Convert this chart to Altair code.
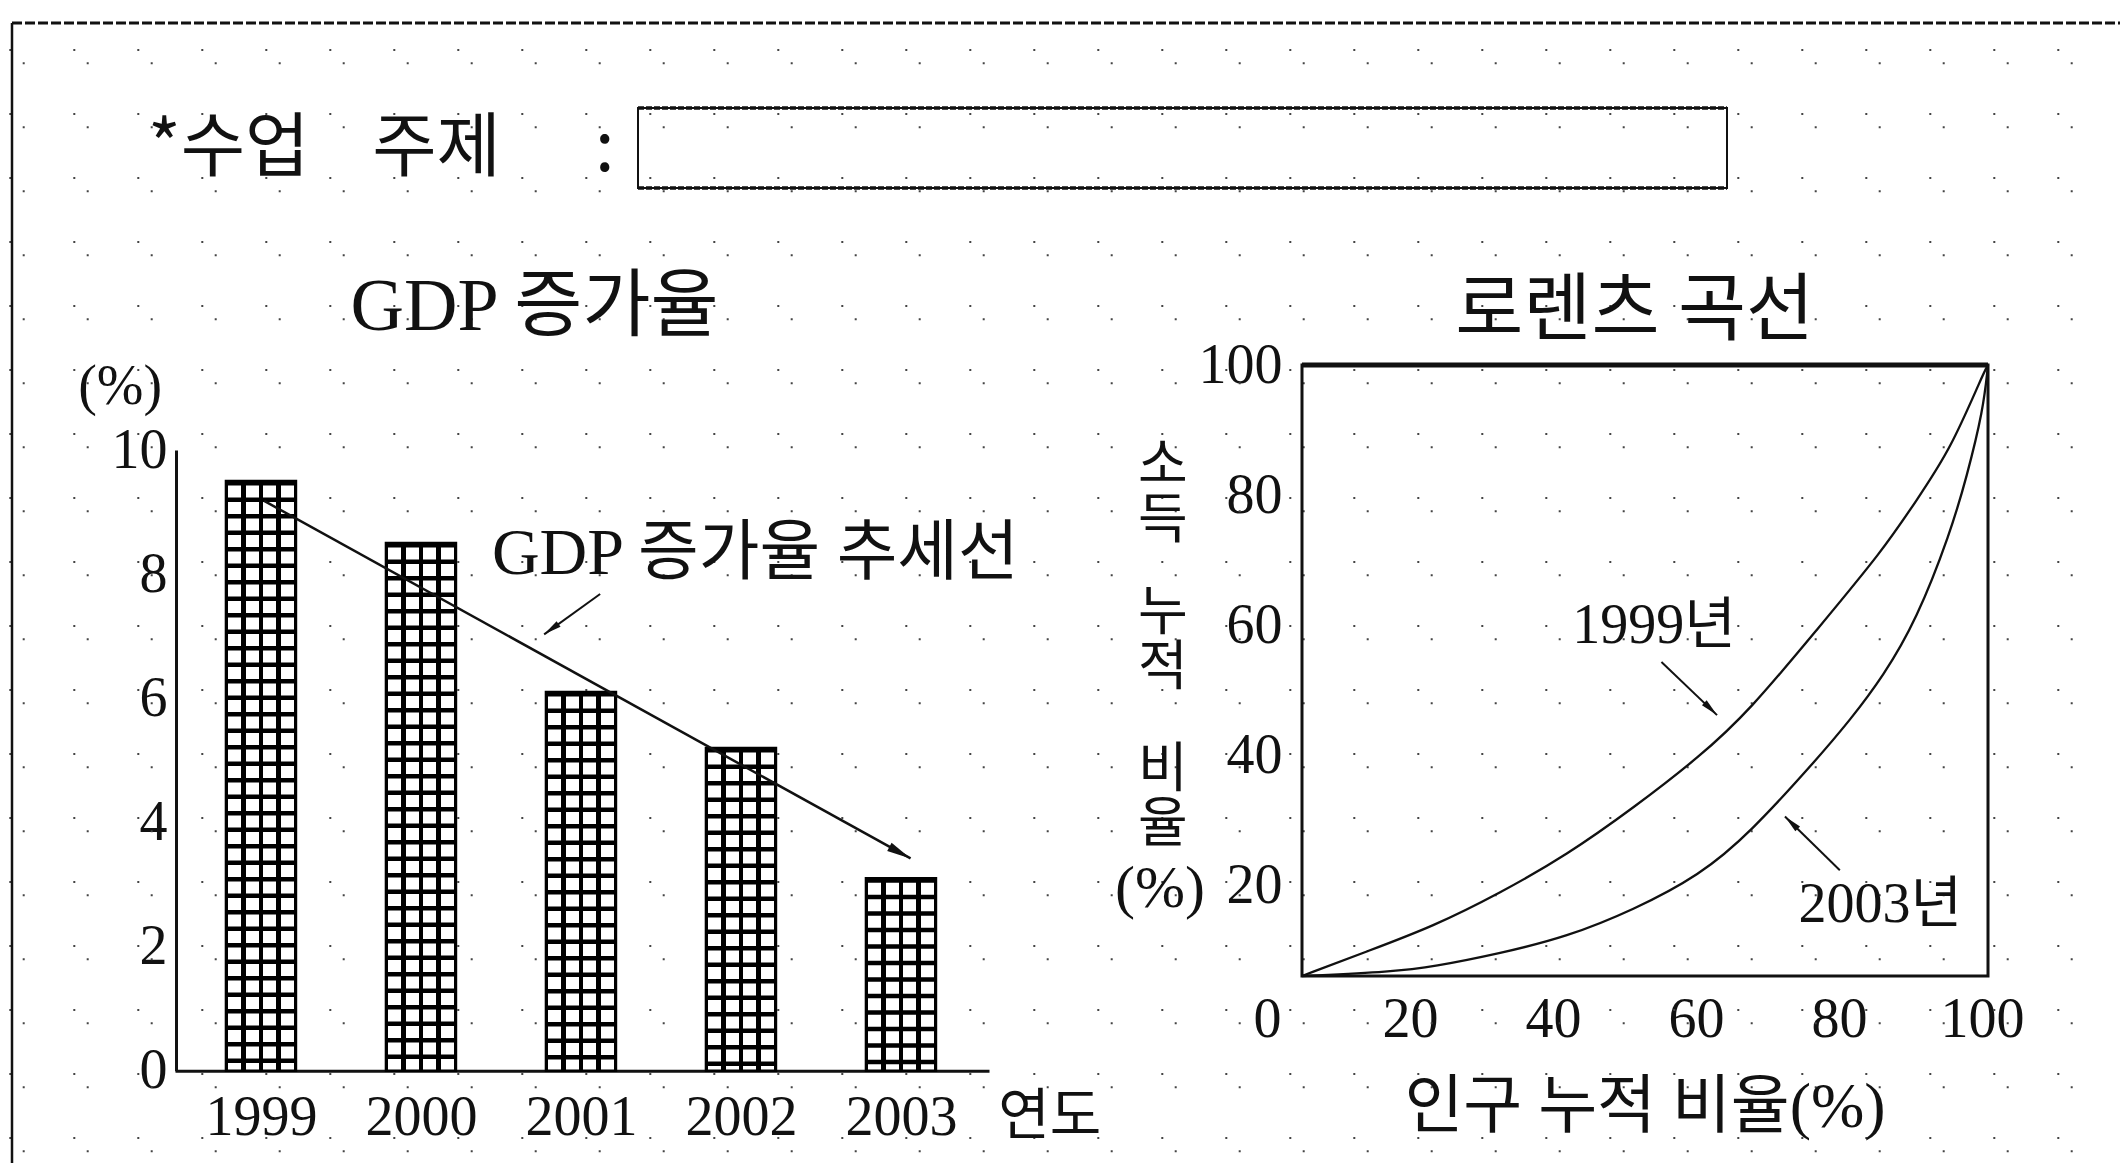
import altair as alt
import pandas as pd

# ---------------- values ----------------
YEARS = [1999, 2000, 2001, 2002, 2003]
GDP_GROWTH = [9.5, 8.5, 6.1, 5.2, 3.1]            # GDP 증가율 (%)
GDP_TICKS = [0, 2, 4, 6, 8, 10]
TREND_YEAR = [1999.02, 2003.06]                   # 추세선 시작/끝
TREND_GROWTH = [9.18, 3.42]

POP_1999 = [0, 9.4, 19.1, 28.9, 38.6, 48.3, 58.0, 65.3, 75.0, 84.7, 89.6, 94.5, 99.3, 100]
INC_1999 = [0, 4.0, 8.1, 13.6, 19.8, 27.5, 35.9, 43.5, 56.6, 69.7, 77.9, 86.1, 98.6, 100]
POP_2003 = [0, 13.3, 19.1, 28.9, 38.6, 48.3, 58.0, 65.3, 75.0, 79.9, 84.7, 89.6, 94.5, 96.9, 99.3, 100]
INC_2003 = [0, 0.7, 1.5, 3.7, 6.4, 10.8, 16.5, 23.4, 35.4, 41.9, 49.0, 58.3, 72.5, 81.7, 92.6, 100]
LORENZ_X_TICKS = [0, 20, 40, 60, 80, 100]
LORENZ_Y_TICKS = [20, 40, 60, 80, 100]
SERIES = ["1999년", "2003년"]

# ---------------- texts ----------------
NB = "\u00a0"
TOPIC = "*수업 " + NB * 3 + "주제 " + NB * 5 + ":"
GDP_TITLE = "GDP 증가율"
TREND_LABEL = "GDP 증가율 추세선"
PCT = "(%)"
YEAR_UNIT = "연도"
LORENZ_TITLE = "로렌츠 곡선"
LORENZ_XTITLE = "인구 누적 비율(%)"
LORENZ_YTITLE = ["소\n득", "누\n적", "비\n율", "(%)"]

# ---------------- annotation anchors (data units) ----------------
LEFT_NOTE_TEXT = [GDP_TITLE, TREND_LABEL, PCT, YEAR_UNIT]
LEFT_NOTE_YEAR = [2000.71, 2002.09, 1998.12, 2003.93]
LEFT_NOTE_GROWTH = [12.29, 8.33, 11.02, -0.75]
LEFT_NOTE_SIZE = [74, 66, 56, 56]
POINTER_YEAR = [2001.12, 2000.77]
POINTER_GROWTH = [7.68, 7.03]

RIGHT_NOTE_TEXT = [LORENZ_TITLE, SERIES[0], SERIES[1], LORENZ_XTITLE] + LORENZ_YTITLE
RIGHT_NOTE_X = [48.5, 51.3, 84.3, 50.0, -20.3, -20.3, -20.3, -20.7]
RIGHT_NOTE_Y = [108.7, 57.3, 11.6, -21.6, 83.3, 59.2, 33.5, 14.2]
RIGHT_NOTE_SIZE = [74, 56, 56, 64, 54, 54, 54, 60]
ARROW_1999_X = [52.4, 60.5]
ARROW_1999_Y = [51.4, 42.7]
ARROW_2003_X = [78.4, 70.4]
ARROW_2003_Y = [17.3, 26.1]

# ---------------- layout (picture pixels) ----------------
OFF = 8
W, H = 2112, 1155


def c(v):
    return v - OFF


SERIF = "Liberation Serif, Noto Sans CJK KR"
KR = "Noto Sans CJK KR"
INK = "#111111"
ARROW_PATH = "M0,0L0.42,2.2L-0.42,2.2Z"

one = pd.DataFrame({"k": [0]})

# ---------------- background: dotted paper, border, topic box ----------------
dots_a = alt.Chart(alt.sequence(0, 18, as_="j")).transform_calculate(
    py=f"{c(50)} + 64*datum.j"
).mark_rule(color="#444444", strokeWidth=2, strokeDash=[2, 62]).encode(
    y=alt.Y("py:Q", scale=None), x=alt.value(c(9.3)), x2=alt.value(W)
)
dots_b = alt.Chart(alt.sequence(0, 18, as_="j")).transform_calculate(
    py=f"{c(63.3)} + 64*datum.j"
).mark_rule(color="#444444", strokeWidth=2, strokeDash=[2, 62]).encode(
    y=alt.Y("py:Q", scale=None), x=alt.value(c(22.7)), x2=alt.value(W)
)
border_top = alt.Chart(one).mark_rule(color=INK, strokeWidth=3, strokeDash=[10, 3]).encode(
    x=alt.value(c(12)), x2=alt.value(W), y=alt.value(c(23))
)
border_left = alt.Chart(one).mark_rule(color=INK, strokeWidth=2.5).encode(
    x=alt.value(c(12)), y=alt.value(c(23)), y2=alt.value(H)
)
border_right = alt.Chart(one).mark_rule(color="#bbbbbb", strokeWidth=1).encode(
    x=alt.value(c(2127)), y=alt.value(c(23)), y2=alt.value(H)
)
topic_box = alt.Chart(one).mark_rect(fillOpacity=0, stroke=INK, strokeWidth=2).encode(
    x=alt.value(c(638)), x2=alt.value(c(1727)), y=alt.value(c(108)), y2=alt.value(c(188))
)
topic_box_tb = alt.Chart(pd.DataFrame({"py": [c(108), c(188)]})).mark_rule(
    color=INK, strokeWidth=3.5, strokeDash=[6, 2]
).encode(y=alt.Y("py:Q", scale=None), x=alt.value(c(638)), x2=alt.value(c(1727)))
topic_text = alt.Chart(pd.DataFrame({"t": [TOPIC]})).mark_text(
    align="left", baseline="middle", font=KR, fontSize=70, color=INK
).encode(text="t:N", x=alt.value(c(148)), y=alt.value(c(150)))

# ---------------- left: GDP 증가율 ----------------
xL = alt.Scale(domain=[1998.494, 2003.519], range=[c(175), c(989)], nice=False, zero=False)
yL = alt.Scale(domain=[0, 10], range=[c(1070.7), c(450)], nice=False, zero=False)

XL = alt.X(
    "year:Q", scale=xL, title=None,
    axis=alt.Axis(orient="bottom", offset=-(H - c(1070.7)), values=YEARS, format="d",
                  ticks=False, grid=False, domainColor=INK, domainWidth=3,
                  labelFont=SERIF, labelFontSize=56, labelColor=INK, labelPadding=20,
                  labelFlush=False, labelOverlap=False),
)
YL = alt.Y(
    "gdp:Q", scale=yL, title=None,
    axis=alt.Axis(orient="left", offset=-c(176), values=GDP_TICKS, format="d", ticks=False,
                  grid=False, domainColor=INK, domainWidth=3, labelFont=SERIF, labelFontSize=56,
                  labelColor=INK, labelPadding=9, labelFlush=False, labelOverlap=False),
)
xl = alt.X("year:Q", scale=xL, title=None)
yl = alt.Y("gdp:Q", scale=yL, title=None)

gdp_df = pd.DataFrame({"year": YEARS, "gdp": GDP_GROWTH})

k, w = "#000000", "#ffffff"
cells = [(0, k), (0.035, k), (0.035, w), (0.215, w), (0.215, k), (0.285, k), (0.285, w),
         (0.465, w), (0.465, k), (0.535, k), (0.535, w), (0.715, w), (0.715, k), (0.785, k),
         (0.785, w), (0.965, w), (0.965, k), (1, k)]
pattern = alt.Gradient(gradient="linear", x1=0, x2=1, y1=0, y2=0,
                       stops=[alt.GradientStop(offset=o, color=col) for o, col in cells])

bars_fill = alt.Chart(gdp_df).mark_bar(size=70, orient="vertical", fill=pattern).encode(x=XL, y=YL)
bars_rows = alt.Chart(gdp_df).mark_rule(strokeWidth=70, strokeDash=[4.5, 12], color=k).encode(
    x=xl, y=yl, y2=alt.datum(0)
)
bars_edge = alt.Chart(gdp_df).mark_bar(
    size=70, orient="vertical", fillOpacity=0, stroke=k, strokeWidth=2.5
).encode(x=xl, y=yl)

trend_df = pd.DataFrame({"year": TREND_YEAR, "gdp": TREND_GROWTH})
trend = alt.Chart(trend_df).mark_line(color=INK, strokeWidth=2.5).encode(x=xl, y=yl)
trend_head = alt.Chart(trend_df.iloc[[-1]]).mark_point(
    shape=ARROW_PATH, size=480, angle=118.6, filled=True, color=INK, opacity=1, strokeWidth=0
).encode(x=xl, y=yl)

pointer_df = pd.DataFrame({"year": POINTER_YEAR, "gdp": POINTER_GROWTH})
pointer = alt.Chart(pointer_df).mark_line(color=INK, strokeWidth=2).encode(x=xl, y=yl)
pointer_head = alt.Chart(pointer_df.iloc[[-1]]).mark_point(
    shape=ARROW_PATH, size=260, angle=234.3, filled=True, color=INK, opacity=1, strokeWidth=0
).encode(x=xl, y=yl)

left_notes = alt.Chart(pd.DataFrame({
    "year": LEFT_NOTE_YEAR, "gdp": LEFT_NOTE_GROWTH, "t": LEFT_NOTE_TEXT, "fs": LEFT_NOTE_SIZE
})).mark_text(font=SERIF, color=INK, align="center", baseline="middle").encode(
    x=xl, y=yl, text="t:N", size=alt.Size("fs:Q", scale=None)
)

left = alt.layer(bars_fill, bars_rows, bars_edge, trend, trend_head, pointer, pointer_head, left_notes)

# ---------------- right: 로렌츠 곡선 ----------------
xR = alt.Scale(domain=[0, 100], range=[c(1302), c(1988)], nice=False, zero=False)
yR = alt.Scale(domain=[0, 100], range=[c(976), c(365)], nice=False, zero=False)

XR = alt.X(
    "pop:Q", scale=xR, title=None,
    axis=alt.Axis(orient="bottom", offset=-(H - c(976)), values=LORENZ_X_TICKS, ticks=False,
                  grid=False, domain=False, labelFont=SERIF, labelFontSize=56, labelColor=INK,
                  labelPadding=16, labelFlush=False, labelOverlap=False,
                  labelOffset={"expr": "-35 + 0.29*datum.value"}),
)
YR = alt.Y(
    "inc:Q", scale=yR, title=None,
    axis=alt.Axis(orient="left", offset=-c(1302), values=LORENZ_Y_TICKS, ticks=False,
                  grid=False, domain=False, labelFont=SERIF, labelFontSize=56, labelColor=INK,
                  labelPadding=20, labelFlush=False, labelOverlap=False,
                  labelOffset={"expr": "40 - 0.4*datum.value"}),
)
xr = alt.X("pop:Q", scale=xR, title=None)
yr = alt.Y("inc:Q", scale=yR, title=None)

box_df = pd.DataFrame({"pop": [0], "pop2": [100], "inc": [0], "inc2": [100]})
box = alt.Chart(box_df).mark_rect(fillOpacity=0, stroke=INK, strokeWidth=3).encode(
    x=XR, x2="pop2:Q", y=YR, y2="inc2:Q"
)
box_top = alt.Chart(box_df).mark_rule(color=INK, strokeWidth=5).encode(
    x=xr, x2="pop2:Q", y=alt.Y("inc2:Q", scale=yR, title=None)
)

lorenz_df = pd.concat([
    pd.DataFrame({"pop": POP_1999, "inc": INC_1999, "s": SERIES[0]}),
    pd.DataFrame({"pop": POP_2003, "inc": INC_2003, "s": SERIES[1]}),
])
curves = alt.Chart(lorenz_df).mark_line(color=INK, strokeWidth=2.3, interpolate="basis").encode(
    x=xr, y=yr, detail="s:N"
)

arrows_df = pd.concat([
    pd.DataFrame({"pop": ARROW_1999_X, "inc": ARROW_1999_Y, "s": SERIES[0]}),
    pd.DataFrame({"pop": ARROW_2003_X, "inc": ARROW_2003_Y, "s": SERIES[1]}),
])
arrows = alt.Chart(arrows_df).mark_line(color=INK, strokeWidth=2).encode(x=xr, y=yr, detail="s:N")
head_1999 = alt.Chart(arrows_df.iloc[[1]]).mark_point(
    shape=ARROW_PATH, size=260, angle=134.1, filled=True, color=INK, opacity=1, strokeWidth=0
).encode(x=xr, y=yr)
head_2003 = alt.Chart(arrows_df.iloc[[3]]).mark_point(
    shape=ARROW_PATH, size=260, angle=314.1, filled=True, color=INK, opacity=1, strokeWidth=0
).encode(x=xr, y=yr)

right_notes = alt.Chart(pd.DataFrame({
    "pop": RIGHT_NOTE_X, "inc": RIGHT_NOTE_Y, "t": RIGHT_NOTE_TEXT, "fs": RIGHT_NOTE_SIZE
})).mark_text(font=SERIF, color=INK, align="center", baseline="middle", lineBreak="\n",
              lineHeight=55).encode(
    x=xr, y=yr, text="t:N", size=alt.Size("fs:Q", scale=None)
)

right = alt.layer(box, box_top, curves, arrows, head_1999, head_2003, right_notes)

chart = alt.layer(
    dots_a, dots_b, border_top, border_left, border_right, topic_box, topic_box_tb, topic_text,
    left, right,
).resolve_scale(x="independent", y="independent").properties(
    width=W, height=H, padding=0, autosize=alt.AutoSizeParams(type="none"),
    background="white",
).configure_view(stroke=None)

chart.save("out.html", embed_options={"renderer": "svg", "actions": False})
